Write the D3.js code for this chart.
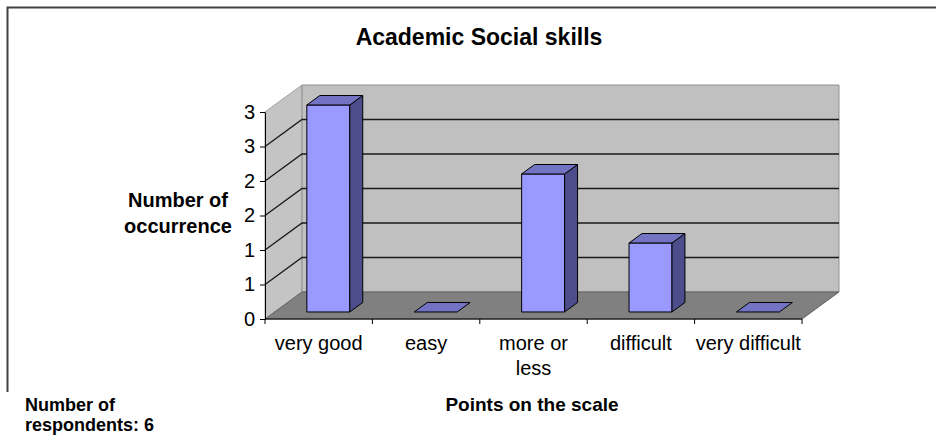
<!DOCTYPE html>
<html>
<head>
<meta charset="utf-8">
<script src="https://cdn.jsdelivr.net/npm/d3@7/dist/d3.min.js"></script>
<style>
	html, body { margin: 0; padding: 0; background: #fff; }
	svg { display: block; font-family: "Liberation Sans", Arial, sans-serif; }
</style>
</head>
<body>
<svg id="chart" width="936" height="441"></svg>
<script>
	var title = "Academic Social skills";
	var categories = ["very good", "easy", "more or\nless", "difficult", "very difficult"];
	var counts = [3, 0, 2, 1, 0];
	var yTicks = [0, 0.5, 1, 1.5, 2, 2.5, 3];
	var yTitle = ["Number of", "occurrence"];
	var xTitle = "Points on the scale";
	var note = ["Number of", "respondents: 6"];

	var svg = d3.select("#chart");

	// plot box: front edge of the floor and depth of the 3d walls
	var left = 265, right = 802, base = 319;
	var x = d3.scaleBand().domain(categories).range([left, right]);
	var y = d3.scaleLinear().domain([0, 3]).range([base, 112]);
	var dx = d3.scaleLinear().domain([0, 1]).range([0, 37]);
	var dy = d3.scaleLinear().domain([0, 1]).range([0, -27]);

	function pt(px, v, depth) {
		return [px + dx(depth), y(v) + dy(depth)];
	}
	var poly = d3.line();

	// frame (cropped at right and bottom)
	svg.append("path")
		.attr("d", "M7.5,392V7.5H936")
		.attr("fill", "none")
		.attr("stroke", "#404040")
		.attr("stroke-width", 2);

	var walls = svg.append("g");
	walls.append("path")
		.attr("d", poly([pt(left, 0, 0), pt(left, 3, 0), pt(left, 3, 1), pt(left, 0, 1)]) + "Z")
		.attr("fill", "#c4c4c4")
		.attr("stroke", "#a0a0a0");
	walls.append("path")
		.attr("d", poly([pt(left, 0, 1), pt(left, 3, 1), pt(right, 3, 1), pt(right, 0, 1)]) + "Z")
		.attr("fill", "#c0c0c0")
		.attr("stroke", "#909090");
	walls.append("path")
		.attr("d", poly([pt(left, 0, 0), pt(right, 0, 0), pt(right, 0, 1), pt(left, 0, 1)]) + "Z")
		.attr("fill", "#808080")
		.attr("stroke", "#606060");

	var grid = svg.append("g")
		.attr("fill", "none")
		.attr("stroke", "#1a1a1a")
		.attr("stroke-width", 1.3);
	yTicks.filter(function(v) { return v > 0 && v < 3; }).forEach(function(v) {
		grid.append("path").attr("d", poly([pt(left, v, 0), pt(left, v, 1), pt(right, v, 1)]));
	});

	// bars sit in the middle of the floor depth
	var f0 = 0.26, f1 = 0.61;
	var bw = x.bandwidth() * 0.4;
	var bars = svg.append("g")
		.attr("stroke", "#000")
		.attr("stroke-width", 1)
		.attr("stroke-linejoin", "round");
	categories.forEach(function(c, i) {
		var x0 = x(c) + (x.bandwidth() - bw) / 2, x1 = x0 + bw;
		var v = counts[i];
		var g = bars.append("g");
		if (v > 0) {
			g.append("path")
				.attr("d", poly([pt(x0, 0, f0), pt(x1, 0, f0), pt(x1, v, f0), pt(x0, v, f0)]) + "Z")
				.attr("fill", "#9999ff");
			g.append("path")
				.attr("d", poly([pt(x1, 0, f0), pt(x1, 0, f1), pt(x1, v, f1), pt(x1, v, f0)]) + "Z")
				.attr("fill", "#4d4d8c");
		}
		g.append("path")
			.attr("d", poly([pt(x0, v, f0), pt(x1, v, f0), pt(x1, v, f1), pt(x0, v, f1)]) + "Z")
			.attr("fill", "#7373c4");
	});

	// y axis
	var yAxis = svg.append("g")
		.attr("transform", "translate(" + left + ",0)")
		.call(d3.axisLeft(y)
			.tickValues(yTicks)
			.tickFormat(d3.format(".0f"))
			.tickSize(5)
			.tickSizeOuter(0)
			.tickPadding(5));
	yAxis.selectAll("text")
		.attr("font-size", 20)
		.attr("font-family", "Liberation Sans, Arial, sans-serif")
		.attr("fill", "#000");
	yAxis.selectAll("line, path").attr("stroke", "#000");

	// x axis: front floor edge with ticks at the band edges
	var xAxis = svg.append("g");
	xAxis.append("line")
		.attr("x1", left).attr("x2", right)
		.attr("y1", base).attr("y2", base)
		.attr("stroke", "#000");
	xAxis.selectAll("line.tick")
		.data(categories.map(function(c) { return x(c); }).concat([right]))
		.join("line")
		.attr("class", "tick")
		.attr("x1", function(d) { return d; })
		.attr("x2", function(d) { return d; })
		.attr("y1", base).attr("y2", base + 5)
		.attr("stroke", "#000");
	xAxis.selectAll("text")
		.data(categories)
		.join("text")
		.attr("x", function(d) { return x(d) + x.bandwidth() / 2; })
		.attr("y", 350)
		.attr("text-anchor", "middle")
		.attr("font-size", 20)
		.selectAll("tspan")
		.data(function(d) { return d.split("\n"); })
		.join("tspan")
		.attr("x", function() { return this.parentNode.getAttribute("x"); })
		.attr("dy", function(d, i) { return i ? 25 : 0; })
		.text(function(d) { return d; });

	// titles
	svg.append("text")
		.attr("x", 479).attr("y", 45)
		.attr("text-anchor", "middle")
		.attr("font-size", 23)
		.attr("font-weight", "bold")
		.text(title);

	svg.append("text")
		.attr("x", 178).attr("y", 207)
		.attr("text-anchor", "middle")
		.attr("font-size", 20)
		.attr("font-weight", "bold")
		.selectAll("tspan")
		.data(yTitle)
		.join("tspan")
		.attr("x", 178)
		.attr("dy", function(d, i) { return i ? 26 : 0; })
		.text(function(d) { return d; });

	svg.append("text")
		.attr("x", 532).attr("y", 411)
		.attr("text-anchor", "middle")
		.attr("font-size", 19)
		.attr("font-weight", "bold")
		.text(xTitle);

	svg.append("text")
		.attr("x", 25).attr("y", 411)
		.attr("font-size", 18)
		.attr("font-weight", "bold")
		.selectAll("tspan")
		.data(note)
		.join("tspan")
		.attr("x", 25)
		.attr("dy", function(d, i) { return i ? 20 : 0; })
		.text(function(d) { return d; });
</script>
</body>
</html>
